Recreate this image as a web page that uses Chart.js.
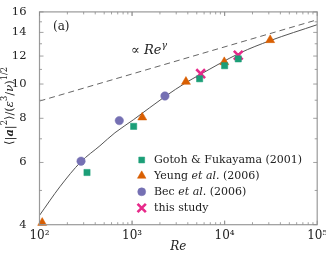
<!DOCTYPE html>
<html><head><meta charset="utf-8">
<script src="https://cdn.jsdelivr.net/npm/chart.js@4/dist/chart.umd.min.js"></script>
<style>html,body{margin:0;padding:0;background:#fff}#wrap{width:326px;height:258px;position:relative}</style>
</head><body><div id="wrap"><canvas id="c" width="326" height="258"></canvas></div>
<script>
// ---- data ----
const gotohRe = [326, 1040, 5370, 10000, 14030];
const gotohA  = [5.62, 7.59, 10.35, 11.27, 11.78];
const yeungRe = [107, 1288, 3819, 9910, 31050];
const yeungA  = [4.05, 8.05, 10.15, 11.54, 13.32];
const becRe   = [281, 728, 2265];
const becA    = [6.05, 7.88, 9.25];
const studyRe = [5510, 14030];
const studyA  = [10.7, 12.06];
const fitRe = [100, 166, 279, 450, 653, 1031, 2283, 3819, 5408, 14620, 30830, 100000];
const fitA  = [4.25, 5.12, 6.02, 6.69, 7.28, 7.92, 9.23, 10.09, 10.63, 12.24, 13.26, 14.72];
const powRe = [100, 100000];
const powA  = [8.95, 15.2];
const xMajor = [100, 1000, 10000, 100000];
const xLabels = ['10²', '10³', '10⁴', '10⁵'];
const yMajor = [4, 6, 8, 10, 12, 14, 16];
const yMinor = [5, 7, 9, 11, 13, 15];
const legendNames = [
  [['Gotoh & Fukayama (2001)', '']],
  [['Yeung ', ''], ['et al.', 'italic'], [' (2006)', '']],
  [['Bec ', ''], ['et al.', 'italic'], [' (2006)', '']],
  [['this study', '']]
];

const C_GREEN = '#1b9e77', C_ORANGE = '#d95f02', C_PURPLE = '#7570b3', C_PINK = '#e7298a';
const FONT = '"DejaVu Serif", "Liberation Serif", serif';
const pts = (xs, ys) => xs.map((x, i) => ({x: x, y: ys[i]}));

const markerDefs = [
  {pointStyle: 'rect', radius: 4.4, backgroundColor: C_GREEN, borderColor: C_GREEN, borderWidth: 0.5},
  {pointStyle: 'triangle', radius: 5.2, backgroundColor: C_ORANGE, borderColor: C_ORANGE, borderWidth: 0.5},
  {pointStyle: 'circle', radius: 4.2, backgroundColor: C_PURPLE, borderColor: C_PURPLE, borderWidth: 0.5},
  {pointStyle: 'crossRot', radius: 6.2, backgroundColor: C_PINK, borderColor: C_PINK, borderWidth: 2.6}
];

function mk(label, xs, ys, m) {
  return {label: label, data: pts(xs, ys), showLine: false, pointStyle: m.pointStyle, pointRadius: m.radius,
    pointHoverRadius: m.radius, backgroundColor: m.backgroundColor, borderColor: m.borderColor,
    pointBorderWidth: m.borderWidth, borderWidth: m.borderWidth, clip: false};
}

function drawRich(ctx, segs, x, y, size) {
  let cx = x;
  for (const s of segs) {
    const sz = s.sup ? size * 0.72 : size;
    ctx.font = (s.style || '') + ' ' + sz + 'px ' + FONT;
    ctx.fillText(s.t, cx, y - (s.sup ? size * 0.42 : 0));
    cx += ctx.measureText(s.t).width;
  }
  return cx - x;
}
function measureRich(ctx, segs, size) {
  let w = 0;
  for (const s of segs) {
    const sz = s.sup ? size * 0.72 : size;
    ctx.font = (s.style || '') + ' ' + sz + 'px ' + FONT;
    w += ctx.measureText(s.t).width;
  }
  return w;
}

const deco = {
  id: 'deco',
  afterDraw(chart) {
    const ctx = chart.ctx, a = chart.chartArea;
    const xs = chart.scales.x, ys = chart.scales.y;
    ctx.save();
    // frame
    ctx.strokeStyle = '#9a9a9a'; ctx.lineWidth = 1.2;
    ctx.strokeRect(a.left, a.top, a.right - a.left, a.bottom - a.top);
    // x ticks (inward, top and bottom)
    ctx.strokeStyle = '#8a8a8a'; ctx.lineWidth = 0.8;
    for (let d = 100; d < 100000; d *= 10) {
      for (let k = 1; k <= 10; k++) {
        const v = d * k; if (v > 100000) continue;
        const px = xs.getPixelForValue(v);
        const L = (k === 1 || k === 10) ? 4 : 2.5;
        ctx.beginPath(); ctx.moveTo(px, a.bottom); ctx.lineTo(px, a.bottom - L);
        ctx.moveTo(px, a.top); ctx.lineTo(px, a.top + L); ctx.stroke();
      }
    }
    for (const v of yMajor.concat(yMinor)) {
      const py = ys.getPixelForValue(v);
      const L = yMajor.includes(v) ? 4 : 2.5;
      ctx.beginPath(); ctx.moveTo(a.left, py); ctx.lineTo(a.left + L, py);
      ctx.moveTo(a.right, py); ctx.lineTo(a.right - L, py); ctx.stroke();
    }
    // x tick labels
    ctx.fillStyle = '#222'; ctx.textBaseline = 'middle'; ctx.textAlign = 'center';
    ctx.font = '12px ' + FONT;
    xMajor.forEach((v, i) => ctx.fillText(xLabels[i], xs.getPixelForValue(v), 236));
    // texts
    ctx.textAlign = 'left';
    ctx.font = '12px ' + FONT;
    ctx.fillText('(a)', 53, 27);
    drawRich(ctx, [{t: '∝ '}, {t: 'Re', style: 'italic'}, {t: 'γ', style: 'italic', sup: true}], 131, 51, 13);
    // x title
    ctx.textAlign = 'center'; ctx.font = 'italic 12px ' + FONT;
    ctx.fillText('Re', (a.left + a.right) / 2, 247);
    // y title rotated
    const ySegs = [{t: '⟨|'}, {t: 'a', style: 'italic bold'}, {t: '|'}, {t: '2', sup: true}, {t: '⟩/('},
      {t: 'ε', style: 'italic'}, {t: '3', sup: true}, {t: '/'}, {t: 'ν', style: 'italic'}, {t: ')'}, {t: '1/2', sup: true}];
    ctx.save();
    ctx.translate(10, 106); ctx.rotate(-Math.PI / 2);
    ctx.textAlign = 'left';
    const w = measureRich(ctx, ySegs, 11.5);
    drawRich(ctx, ySegs, -w / 2, 0, 11.5);
    ctx.restore();
    // legend
    const ly = [160, 175.8, 191.8, 208];
    ctx.textAlign = 'left';
    for (let i = 0; i < 4; i++) {
      const m = markerDefs[i];
      ctx.fillStyle = m.backgroundColor; ctx.strokeStyle = m.borderColor; ctx.lineWidth = m.borderWidth;
      Chart.helpers.drawPoint(ctx, {pointStyle: m.pointStyle, radius: m.radius * 0.95, rotation: 0, borderWidth: m.borderWidth}, 141.7, ly[i]);
      ctx.fillStyle = '#222';
      drawRich(ctx, legendNames[i].map(s => ({t: s[0], style: s[1]})), 154, ly[i] + 0.5, 11);
    }
    ctx.restore();
  }
};

new Chart(document.getElementById('c'), {
  type: 'scatter',
  data: {
    datasets: [
      {label: 'fit', data: pts(fitRe, fitA), showLine: true, borderColor: '#555', borderWidth: 1, pointRadius: 0, cubicInterpolationMode: 'monotone', fill: false, order: 10},
      {label: 'pow', data: pts(powRe, powA), showLine: true, borderColor: '#666', borderWidth: 1, borderDash: [6, 4], pointRadius: 0, fill: false, order: 10},
      mk('Gotoh & Fukayama (2001)', gotohRe, gotohA, markerDefs[0]),
      mk('Yeung et al. (2006)', yeungRe, yeungA, markerDefs[1]),
      mk('Bec et al. (2006)', becRe, becA, markerDefs[2]),
      mk('this study', studyRe, studyA, markerDefs[3])
    ]
  },
  options: {
    responsive: false, animation: false, devicePixelRatio: 1,
    layout: {padding: {left: 0, right: 8.7, top: 5.3, bottom: 0}},
    plugins: {legend: {display: false}, tooltip: {enabled: false}},
    scales: {
      x: {type: 'logarithmic', min: 100, max: 100000,
        afterBuildTicks: s => { s.ticks = xMajor.map(v => ({value: v})); },
        afterFit: s => { s.height = 33.3; },
        ticks: {display: false},
        grid: {display: false}, border: {display: false}},
      y: {type: 'logarithmic', min: 4, max: 16,
        afterBuildTicks: s => { s.ticks = yMajor.map(v => ({value: v})); },
        afterFit: s => { s.width = 39.5; },
        ticks: {callback: (v) => String(v), autoSkip: false, padding: 5,
          font: {family: FONT, size: 11.5}, color: '#222'},
        grid: {display: false}, border: {display: false}}
    }
  },
  plugins: [deco]
});
</script></body></html>
